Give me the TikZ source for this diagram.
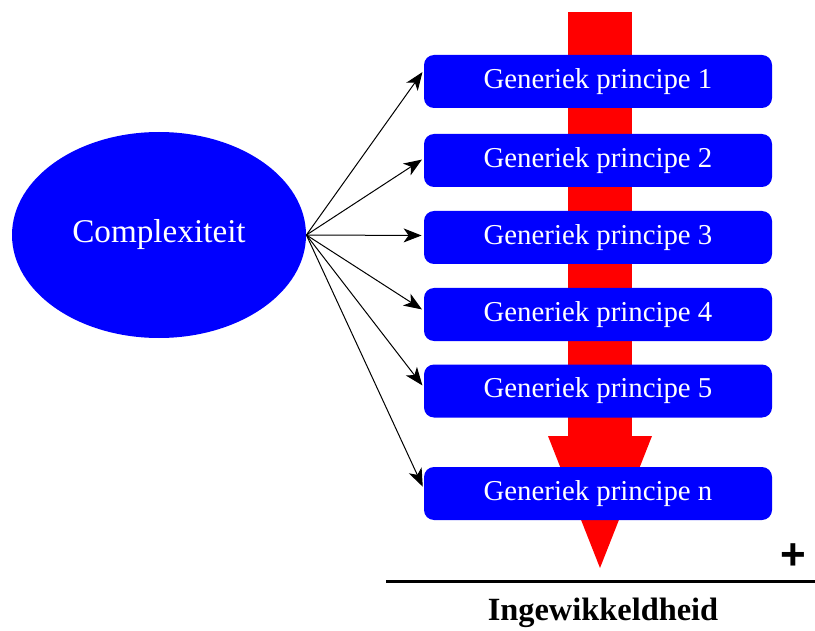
\documentclass[tikz,border=0pt]{standalone}
\usepackage{fontspec}
\setmainfont{Liberation Serif}
\newfontfamily\plusfont{Liberation Sans}
\usepackage{tikz}
\usetikzlibrary{shapes}
\usetikzlibrary{arrows.meta}
\usepackage{xcolor}

\begin{document}
\begin{tikzpicture}[x=0.5pt,y=-0.5pt,
    principe/.style={draw=none,fill=blue,text=white,rounded corners=5pt,
      minimum width=174pt,minimum height=26.5pt,inner sep=0pt,
      font=\fontsize{14.4}{16}\selectfont},
    pijl/.style={-{Stealth[length=9pt,width=7pt,inset=2.5pt]},line width=0.5pt,shorten >=1pt}]
          \useasboundingbox (0,0) rectangle (815,631);
          % rode pijl
          \fill[red] (568,12) rectangle (632,436);
          \fill[red] (548,436) -- (652,436) -- (600,568) -- cycle;
          % ellips en principes
          \node[ellipse,fill=blue,text=white,minimum width=147pt,minimum height=103pt,inner sep=0pt,
            font=\fontsize{16.6}{18}\selectfont] (cx) at (159,235) {Complexiteit};
          \node[principe] (b1) at (598,81.5) {Generiek principe 1};
          \node[principe] (b2) at (598,160.5) {Generiek principe 2};
          \node[principe] (b3) at (598,237.5) {Generiek principe 3};
          \node[principe] (b4) at (598,314.5) {Generiek principe 4};
          \node[principe] (b5) at (598,391) {Generiek principe 5};
          \node[principe] (bn) at (598,493.5) {Generiek principe n};
          \draw[pijl] (cx.east) -- ([yshift=5.5pt]b1.west);
          \draw[pijl] (cx.east) -- ([yshift=1pt]b2.west);
          \draw[pijl] (cx.east) -- ([yshift=1pt]b3.west);
          \draw[pijl] (cx.east) -- ([yshift=2pt]b4.west);
          \draw[pijl] (cx.east) -- ([yshift=2pt]b5.west);
          \draw[pijl] (cx.east) -- ([yshift=2.5pt]bn.west);
          % as
          \coordinate (asl) at (386,581);
          \coordinate (asr) at (815,581);
          \draw[line width=1.5pt] (asl) -- (asr);
          \node[font=\plusfont\bfseries\fontsize{22}{24}\selectfont,inner sep=0pt] (plus) at (793,557) {+};
          \node[font=\bfseries\fontsize{16.2}{18}\selectfont,inner sep=0pt] (ingew) at (603,613) {Ingewikkeldheid};
        \end{tikzpicture}
\end{document}
